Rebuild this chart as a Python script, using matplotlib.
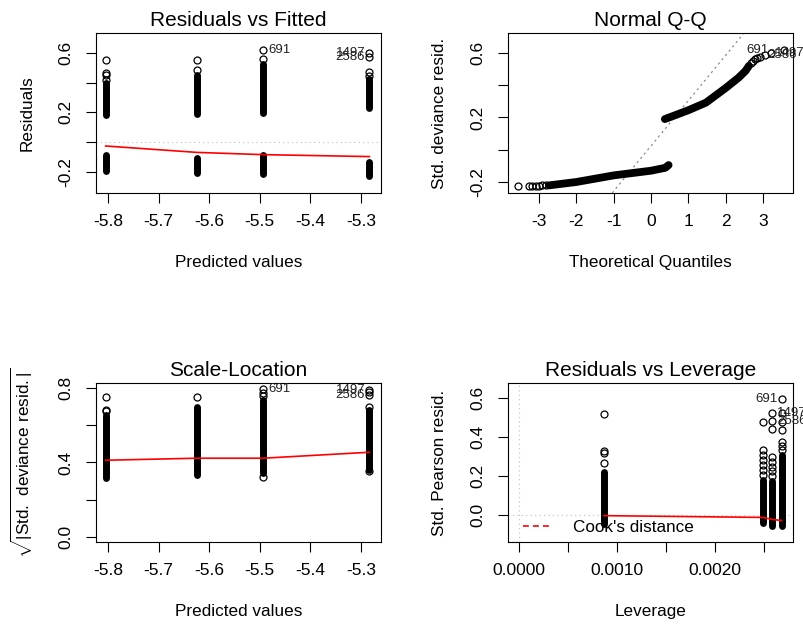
import matplotlib
matplotlib.use("Agg")
import matplotlib.pyplot as plt
from matplotlib.lines import Line2D

plt.rcParams['font.family'] = ['Liberation Sans', 'DejaVu Sans']
plt.rcParams['mathtext.fontset'] = 'custom'
plt.rcParams['mathtext.rm'] = 'Liberation Sans'
plt.rcParams['axes.unicode_minus'] = False

# ---- data ----
fitted = [-5.805, -5.624, -5.493, -5.283]

# Residuals vs Fitted: dense bands (upper / lower) per fitted value
rf_up_lo = [0.182, 0.187, 0.193, 0.231]
rf_up_hi = [0.400, 0.449, 0.527, 0.427]
rf_dn_lo = [-0.195, -0.207, -0.214, -0.229]
rf_dn_hi = [-0.085, -0.103, -0.085, -0.129]
rf_out = [[0.42, 0.449, 0.464, 0.549],
          [0.482, 0.549],
          [0.555, 0.622],
          [0.445, 0.471, 0.571, 0.60]]
rf_smooth = [-0.025, -0.068, -0.083, -0.096]
rf_ids = ["691", "1497", "2586"]
rf_id_x = [-5.493, -5.283, -5.283]
rf_id_y = [0.622, 0.60, 0.571]

# Normal Q-Q
qq_lo_x = [-2.73, -2.0, -1.0, 0.0, 0.38, 0.47]
qq_lo_y = [-0.221, -0.200, -0.159, -0.130, -0.112, -0.095]
qq_up_x = [0.37, 1.0, 1.47, 2.0, 2.35, 2.53, 2.62]
qq_up_y = [0.190, 0.245, 0.292, 0.383, 0.448, 0.489, 0.520]
qq_pts_x = [-3.56, -3.26, -3.18, -3.09, -3.0, -2.91, -2.82,
            2.67, 2.72, 2.78, 2.85, 2.92]
qq_pts_y = [-0.223, -0.223, -0.223, -0.222, -0.222, -0.221, -0.221,
            0.540, 0.550, 0.561, 0.570, 0.578]
qq_ids = ["691", "1497", "2586"]
qq_id_x = [3.56, 3.20, 3.05]
qq_id_y = [0.617, 0.602, 0.588]
qq_line_int = 0.024
qq_line_slope = 0.281

# Scale-Location
sl_lo = [0.318, 0.332, 0.344, 0.362]
sl_hi = [0.657, 0.696, 0.737, 0.684]
sl_out = [[0.675, 0.684, 0.751],
          [0.751],
          [0.321, 0.755, 0.773, 0.794],
          [0.353, 0.697, 0.761, 0.778, 0.787]]
sl_smooth = [0.412, 0.423, 0.423, 0.455]
sl_id_y = [0.794, 0.787, 0.761]

# Residuals vs Leverage
leverage = [0.000867, 0.002487, 0.002579, 0.002681]
lv_lo = [-0.045, -0.043, -0.055, -0.055]
lv_hi = [0.220, 0.180, 0.175, 0.310]
lv_out = [[0.268, 0.319, 0.330, 0.518],
          [0.207, 0.233, 0.258, 0.284, 0.310, 0.335, 0.479],
          [0.200, 0.225, 0.247, 0.270, 0.297, 0.440, 0.484, 0.522],
          [0.336, 0.356, 0.376, 0.437, 0.479, 0.522, 0.593]]
lv_smooth = [-0.003, -0.012, -0.022, -0.028]
lv_ids = ["691", "1497", "2586"]
lv_id_x = [0.002681, 0.002579, 0.002579]
lv_id_y = [0.593, 0.522, 0.484]

BAND_W = 5.0
MS = 5.0
GRAY = '#bebebe'


def band(ax, x, lo, hi):
    ax.plot([x, x], [lo, hi], color='black', lw=BAND_W,
            solid_capstyle='round', zorder=2)


def points(ax, xs, ys):
    ax.plot(xs, ys, 'o', ms=MS, mfc='none', mec='black', mew=0.9, zorder=3)


def label(ax, txt, x, y, dx):
    ax.annotate(txt, (x, y), xytext=(dx, 0), textcoords='offset points',
                ha='left' if dx > 0 else 'right', va='center',
                fontsize=9.5, color='#222222', annotation_clip=False)


def style(ax, title, xlabel, ylabel):
    ax.set_title(title, fontsize=15, pad=5)
    ax.set_xlabel(xlabel, fontsize=12.3)
    ax.set_ylabel(ylabel, fontsize=12.3)
    ax.xaxis.set_label_coords(0.5, -0.39)
    ax.yaxis.set_label_coords(-0.214, 0.5)
    ax.tick_params(length=7.2, width=0.8, labelsize=12.5)
    ax.tick_params(axis='x', pad=8)
    ax.tick_params(axis='y', pad=9, labelrotation=90)
    for lab in ax.get_yticklabels():
        lab.set_va('center')
    for s in ax.spines.values():
        s.set_linewidth(0.8)


fig = plt.figure(figsize=(8.04, 6.30), dpi=100)
ax1 = fig.add_axes([0.1194, 0.6937, 0.3545, 0.254])
ax2 = fig.add_axes([0.6318, 0.6937, 0.3545, 0.254])
ax3 = fig.add_axes([0.1194, 0.1397, 0.3545, 0.2524])
ax4 = fig.add_axes([0.6318, 0.1397, 0.3545, 0.2524])

# --- Residuals vs Fitted ---
ax1.axhline(0, color=GRAY, lw=0.8, ls=(0, (1, 3)), zorder=1)
for i, x in enumerate(fitted):
    band(ax1, x, rf_up_lo[i], rf_up_hi[i])
    band(ax1, x, rf_dn_lo[i], rf_dn_hi[i])
    points(ax1, [x] * len(rf_out[i]), rf_out[i])
ax1.plot(fitted, rf_smooth, color='red', lw=1.2, zorder=4)
label(ax1, rf_ids[0], rf_id_x[0], rf_id_y[0], 3.6)
label(ax1, rf_ids[1], rf_id_x[1], rf_id_y[1], -3)
label(ax1, rf_ids[2], rf_id_x[2], rf_id_y[2], -3)
ax1.set_xlim(-5.824, -5.26)
ax1.set_ylim(-0.34, 0.733)
ax1.set_xticks([-5.8, -5.7, -5.6, -5.5, -5.4, -5.3])
ax1.set_yticks([-0.2, 0.0, 0.2, 0.4, 0.6])
ax1.set_yticklabels(['-0.2', '', '0.2', '', '0.6'])
style(ax1, "Residuals vs Fitted", "Predicted values", "Residuals")

# --- Normal Q-Q ---
ax2.axline((0, qq_line_int), slope=qq_line_slope, color='#7f7f7f', lw=0.8,
           ls=(0, (2, 3)), zorder=1)
ax2.plot(qq_lo_x, qq_lo_y, color='black', lw=BAND_W + 0.6,
         solid_capstyle='round', zorder=2)
ax2.plot(qq_up_x, qq_up_y, color='black', lw=BAND_W + 0.6,
         solid_capstyle='round', zorder=2)
points(ax2, qq_pts_x, qq_pts_y)
points(ax2, qq_id_x, qq_id_y)
label(ax2, qq_ids[0], qq_id_x[0], qq_id_y[0], -11)
label(ax2, qq_ids[1], qq_id_x[1], qq_id_y[1], 3)
label(ax2, qq_ids[2], qq_id_x[2], qq_id_y[2], 2)
ax2.set_xlim(-3.83, 3.8)
ax2.set_ylim(-0.268, 0.724)
ax2.set_xticks([-3, -2, -1, 0, 1, 2, 3])
ax2.set_yticks([-0.2, 0.0, 0.2, 0.4, 0.6])
ax2.set_yticklabels(['-0.2', '', '0.2', '', '0.6'])
style(ax2, "Normal Q-Q", "Theoretical Quantiles", "Std. deviance resid.")

# --- Scale-Location ---
for i, x in enumerate(fitted):
    band(ax3, x, sl_lo[i], sl_hi[i])
    points(ax3, [x] * len(sl_out[i]), sl_out[i])
ax3.plot(fitted, sl_smooth, color='red', lw=1.2, zorder=4)
label(ax3, rf_ids[0], rf_id_x[0], sl_id_y[0], 3.6)
label(ax3, rf_ids[1], rf_id_x[1], sl_id_y[1], -3)
label(ax3, rf_ids[2], rf_id_x[2], sl_id_y[2], -3)
ax3.set_xlim(-5.824, -5.26)
ax3.set_ylim(-0.027, 0.827)
ax3.set_xticks([-5.8, -5.7, -5.6, -5.5, -5.4, -5.3])
ax3.set_yticks([0.0, 0.2, 0.4, 0.6, 0.8])
ax3.set_yticklabels(['0.0', '', '0.4', '', '0.8'])
style(ax3, "Scale-Location", "Predicted values",
      r"$\sqrt{|\mathrm{Std.\ deviance\ resid.}|}$")

# --- Residuals vs Leverage ---
ax4.axhline(0, color=GRAY, lw=0.8, ls=(0, (1, 3)), zorder=1)
ax4.axvline(0, color=GRAY, lw=0.8, ls=(0, (1, 3)), zorder=1)
for i, x in enumerate(leverage):
    band(ax4, x, lv_lo[i], lv_hi[i])
    points(ax4, [x] * len(lv_out[i]), lv_out[i])
ax4.plot(leverage, lv_smooth, color='red', lw=1.2, zorder=4)
label(ax4, lv_ids[0], lv_id_x[0], lv_id_y[0], -3)
label(ax4, lv_ids[1], lv_id_x[1], lv_id_y[1], 4)
label(ax4, lv_ids[2], lv_id_x[2], lv_id_y[2], 4)
ax4.set_xlim(-0.000112, 0.002796)
ax4.set_ylim(-0.138, 0.677)
ax4.set_xticks([0.0, 0.0005, 0.001, 0.0015, 0.002, 0.0025])
ax4.set_xticklabels(['0.0000', '', '0.0010', '', '0.0020', ''])
ax4.set_yticks([0.0, 0.2, 0.4, 0.6])
ax4.set_yticklabels(['0.0', '0.2', '0.4', '0.6'])
style(ax4, "Residuals vs Leverage", "Leverage", "Std. Pearson resid.")
cook = Line2D([], [], color='red', lw=1.2, ls=(0, (3.5, 2.5)))
ax4.legend([cook], ["Cook's distance"], loc='lower left',
           bbox_to_anchor=(0.053, 0.045), borderpad=0, borderaxespad=0,
           handlelength=1.7, handletextpad=1.2, frameon=False, fontsize=12.3)

fig.savefig("out.png", dpi=100)
